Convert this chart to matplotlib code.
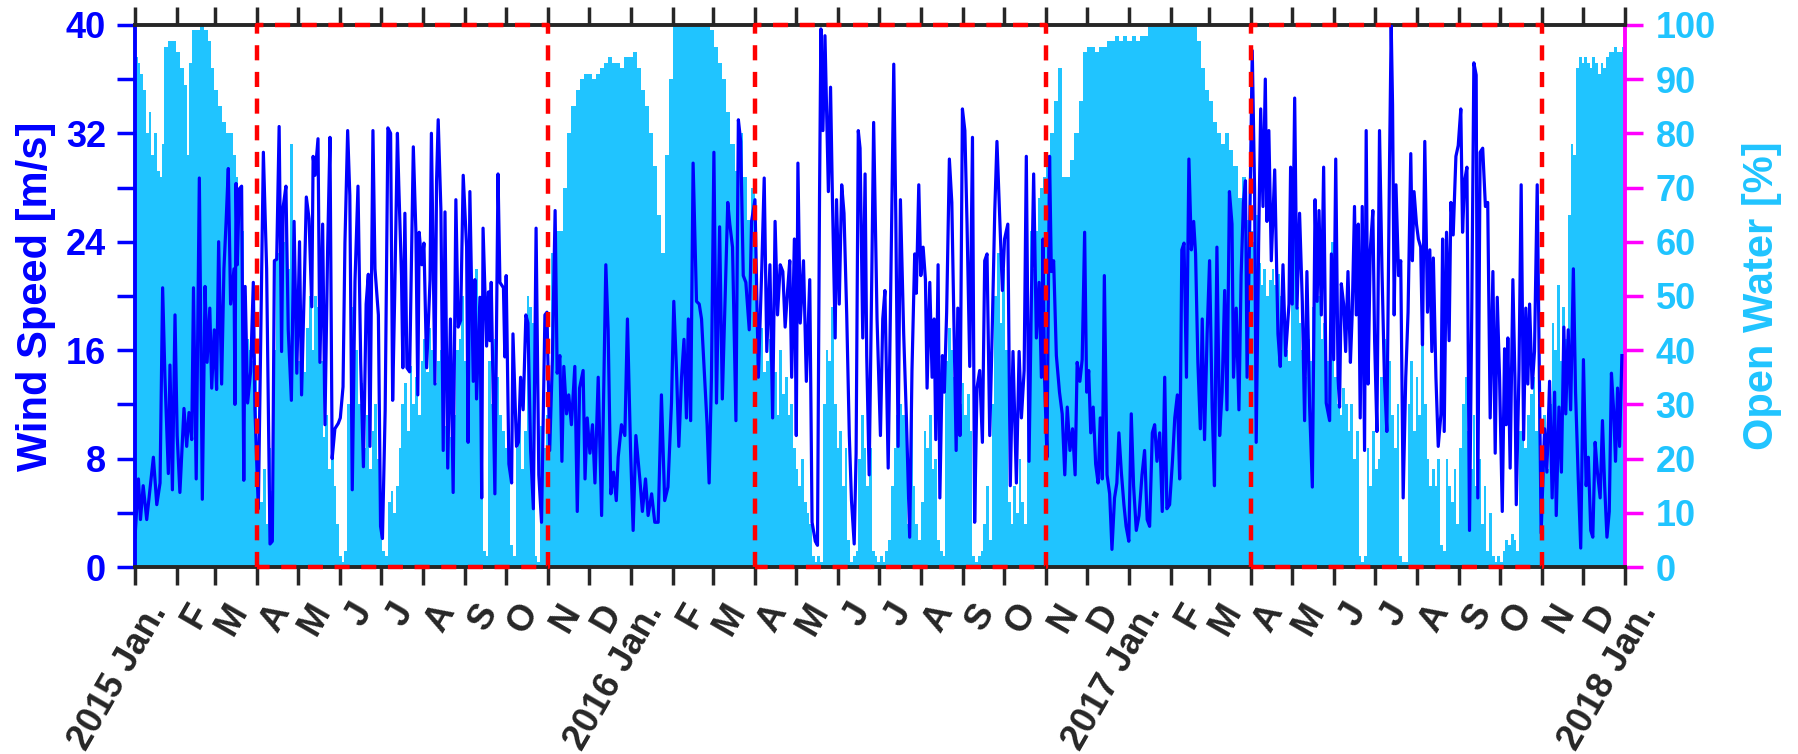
import numpy as np
import matplotlib
matplotlib.use('Agg')
import matplotlib.pyplot as plt
import matplotlib.transforms as mtransforms
from matplotlib.ticker import FixedLocator

plt.rcParams['font.family'] = ['Liberation Sans', 'DejaVu Sans']
plt.rcParams['font.weight'] = 'bold'

# days since 2015-01-01
wind_day = [
    0, 2.5, 4, 6, 8.6, 11.5, 13.5, 16, 18.4, 20.3, 22, 24.5, 25.7, 27.5, 29.4, 31, 33, 36, 38, 39.7,
    41.7, 43, 45, 47.3, 49.5, 51.5, 53, 55, 56.4, 58.3, 60, 61.5, 63.7, 65.4, 67, 68.6, 70.3, 72.8, 73.5, 74.3,
    75.2, 76.7, 78.4, 80, 81, 82.8, 85, 87, 88.2, 90.7, 92, 94.4, 96.8, 99.3, 101, 102.5, 104.2, 106, 107.8, 109,
    111, 112.7, 115, 117, 119, 121, 122.5, 124.5, 126, 128, 130, 131, 132.4, 134.6, 136, 138, 139.7, 141.7, 143.4, 145,
    147, 149.5, 151, 153, 154.4, 156.4, 158, 159.8, 161.8, 164, 166, 168, 170, 171.6, 172.8, 175, 176.5, 179, 180.6, 182,
    184, 186, 188, 189.5, 191, 193, 194, 196, 197, 198.5, 200, 202, 204.7, 206.6, 208, 209, 211, 212.5, 214.5, 217,
    218, 220.6, 221.8, 223, 225, 226.7, 228, 230, 232, 234, 236, 237.7, 239.5, 241.4, 243.9, 245, 246.3, 248.8, 250, 251.2,
    253.7, 255, 256, 258.6, 260, 261, 262, 264.7, 267, 268.4, 271, 272, 273, 275, 277, 278, 280.6,
    282, 283.6, 285.5, 287.5, 289, 291, 293, 295, 297, 299, 301.5, 303, 305, 307, 309, 310.5, 312.5, 314, 315.4, 317.4,
    319, 321, 323.5, 325.3, 327, 329.6, 331, 332.6, 334.6, 336.5, 338.3, 340.7, 343.2, 346.3, 348, 350, 352, 354, 355.4, 357.8,
    360.3, 362.2, 364.5, 366.4, 368.4, 371.3, 373.2, 375.5, 377.4, 380, 382.3, 384.8, 387.2, 389.6, 392, 394.6, 396.3, 398.3, 400, 402,
    403.8, 405.6, 407, 408.7, 410.5, 413, 415, 416.7, 419, 420.8, 422.3, 424, 425.8, 427.7, 430, 432, 434, 436, 437.5, 439.5,
    442, 443.8, 445.5, 447.4, 449.3, 451.8, 453.5, 456, 458.5, 461, 462.8, 464.7, 467, 469, 470.8, 472.6, 474.6, 476.5, 478.2, 480,
    481.6, 483, 485, 486.4, 487.6, 489.3, 491.7, 493.8, 496.3, 498, 500.4, 502, 503.5, 504.5, 506, 507.5, 510, 511.6, 513, 515,
    516, 518, 519.8, 521.5, 523.5, 525.4, 527, 529, 530.4, 532, 533.3, 535.3, 537, 538.2, 540, 542, 543.3, 545.8,
    548.3, 550, 551.6, 554, 556.6, 558.1, 559.6, 561.3, 563, 565.4, 567.4, 569.8, 571.5, 573.5, 574.7, 576.5, 578, 579.7, 581.4, 582.6,
    584.6, 586.3, 587.8, 589, 590.7, 592, 593.9, 595.3, 597, 599, 600.8, 602.5, 604, 605.2, 606.8, 608.6, 610.4, 612, 614, 616,
    617.6, 619.3, 621.3, 623.3, 625, 626.7, 628.7, 630.4, 632.4, 634, 636, 638, 639.6, 642, 643.8, 645.8, 648.3, 650.3, 652, 654,
    655.6, 657.6, 659.3, 661, 663, 665, 666.7, 667.9, 669, 670.8, 672.7, 674, 675.7, 677.7, 680, 682, 683.9, 685.7, 687.7, 689.6,
    691.5, 693, 695, 696.7, 698.5, 700, 701.5, 703, 704.8, 706.6, 708.4, 710, 711.5, 713, 715, 716.9, 718.6, 720.5, 722.2, 723.7,
    725.5, 727.4, 729, 731, 732.8, 734.5, 736.5, 738.5, 740.7, 742.6, 744.5, 746.3, 748.3, 750, 751.7, 753.7, 755.6, 757.4, 759, 761,
    763.1, 764.8, 766.7, 768.4, 770, 771.6, 773.4, 775.2, 777, 778.7, 780.1, 781.8, 783.6, 785, 786.7, 788.6, 790.4, 792.3, 794, 795.8,
    797.8, 799.6, 801.5, 803.2, 805, 806.9, 808, 810, 812, 813.6, 815.3, 816.8, 818, 819.8, 821.8, 823.5, 824.7, 826.5, 828, 829.7,
    831.4, 832.6, 834, 835.8, 838.3, 840.7,
    842.4, 844.4, 846.3, 848.8, 850, 851.2, 853, 854.7, 856.6, 858.6, 860.3, 862, 864, 866, 868, 869.5, 870.9, 872.6, 874.3, 876.2,
    878.7, 880, 881.7, 883.2, 884.9, 886, 887.3, 889, 890.5, 892.2, 894, 895.3, 897, 898.3, 899.8, 901.2, 902.7, 904.4, 905.6, 907,
    908.6, 910.5, 911.8, 913.5, 915.4, 917.2, 919, 920.8, 922.8, 924, 925, 926.2, 927.5, 929.4, 931, 932.8, 934.7, 936.4, 938.4, 939.6,
    940.8, 942.6, 944, 945.7, 947, 948.7, 950.7, 952.4, 953.9, 955, 956.9, 958.6, 960.6, 961.8, 963, 964.7, 966.6, 967.9, 969.6, 971.6,
    973.3, 975.2, 976.5, 978, 979.7, 981.6, 983.3, 984.8, 986.5, 987.7, 989.4, 991.3, 993.3, 995, 996.8, 998.8, 1000.5, 1002, 1003.7, 1005.7,
    1007.4, 1008.6, 1009.8, 1011.5, 1013.5, 1015, 1016, 1018, 1019.6, 1021.4, 1023, 1024.5, 1025.8, 1027.7, 1029.4, 1031.4, 1034.3, 1036.8, 1038.5, 1040.5,
    1042.4, 1044.2, 1045.4, 1047.4, 1049.2, 1051, 1052.4, 1054.2, 1056, 1058, 1059.6, 1061.6, 1063.4, 1065.4, 1067.4, 1069, 1070.8, 1072.3, 1074, 1075.7,
    1077.7, 1079.4, 1081, 1082.7, 1084.4, 1086, 1087.6, 1089, 1090.5, 1092, 1093.7,
]
wind_speed = [
    2.2, 6.5, 3.5, 6.0, 3.5, 6.2, 8.1, 4.6, 6.2, 20.6, 14.0, 6.9, 14.9, 5.7, 18.6, 9.7, 5.5, 11.7, 8.9, 11.4,
    9.4, 20.6, 6.5, 28.7, 5.0, 20.7, 15.1, 19.1, 13.2, 17.5, 13.1, 24.0, 13.5, 22.0, 25.5, 29.4, 19.4, 22.0, 12.0, 28.3,
    22.3, 27.9, 28.1, 6.4, 20.7, 12.1, 14.4, 21.0, 11.6, 4.3, 13.7, 30.6, 22.0, 1.7, 1.9, 22.6, 22.7, 32.5, 15.9, 26.6,
    28.1, 17.5, 12.3, 25.5, 14.3, 24.0, 12.7, 20.7, 27.3, 25.7, 19.2, 30.3, 28.9, 31.6, 15.1, 25.3, 10.5, 23.6, 31.7, 8.0,
    10.2, 10.6, 11.0, 13.3, 23.9, 32.2, 27.4, 5.7, 21.1, 28.1, 15.1, 7.4, 19.4, 21.6, 8.9, 32.2, 22.0, 18.6, 3.0, 2.1,
    11.6, 32.4, 32.0, 12.3, 20.0, 32.0, 28.2, 21.5, 14.7, 26.1, 14.7, 14.4, 31.0, 24.7, 12.7, 24.7, 22.3, 23.9, 14.7, 21.2,
    32.0, 13.5, 28.5, 33.0, 26.3, 8.6, 26.2, 7.3, 18.3, 5.5, 27.1, 17.7, 18.2, 28.9, 23.6, 9.2, 27.7, 13.7, 21.2, 12.4,
    19.9, 5.1, 25.0, 16.3, 20.3, 16.7, 21.0, 5.4, 29.0, 21.0, 20.6, 15.5, 21.5, 7.6, 6.2, 17.2, 8.9,
    9.2, 14.0, 11.6, 18.6, 18.0, 8.6, 4.3, 25.0, 6.8, 3.3, 18.6, 18.8, 8.6, 15.3, 26.3, 14.3, 15.6, 7.8, 14.8, 11.3,
    12.7, 10.5, 14.8, 4.1, 13.2, 14.5, 6.5, 11.0, 8.4, 10.5, 6.2, 14.0, 3.8, 22.3, 17.5, 5.4, 7.0, 4.9, 8.1, 10.5,
    9.7, 18.3, 8.6, 2.7, 9.7, 6.5, 4.1, 6.5, 3.8, 5.4, 3.3, 3.3, 12.7, 4.9, 5.9, 12.1, 19.6, 14.5, 8.9, 14.0,
    16.8, 11.0, 18.3, 10.8, 29.8, 19.6, 19.4, 18.3, 14.0, 10.5, 6.2, 14.0, 30.6, 12.1, 25.1, 12.4, 19.6, 26.9, 25.3, 23.6,
    10.8, 33.0, 31.4, 21.5, 21.0, 17.5, 25.5, 27.1, 14.0, 22.0, 28.7, 15.9, 22.3, 11.0, 25.5, 18.6, 22.3, 21.8, 17.7, 20.4,
    22.6, 14.0, 24.2, 9.7, 29.8, 18.0, 22.6, 13.7, 21.2, 3.3, 1.9, 1.6, 27.4, 39.7, 32.2, 39.2, 27.7, 35.4, 27.1, 16.9,
    27.1, 19.4, 28.2, 26.1, 18.6, 9.7, 4.9, 1.7, 8.4, 32.2, 30.9, 16.9, 29.0, 15.6, 6.8, 22.0, 32.8, 18.3,
    9.7, 18.3, 20.4, 7.3, 25.8, 37.1, 25.8, 8.9, 27.1, 17.2, 11.0, 2.2, 14.5, 23.1, 20.2, 28.2, 21.5, 23.6, 21.2, 13.2,
    21.0, 14.0, 18.3, 9.4, 22.3, 5.1, 15.6, 12.9, 18.8, 30.1, 26.9, 17.2, 8.6, 19.1, 9.7, 33.8, 32.2, 25.3, 14.8, 31.7,
    3.3, 13.2, 14.5, 9.2, 22.6, 23.1, 9.7, 16.9, 26.3, 31.4, 25.8, 20.4, 24.2, 25.3, 6.0, 15.9, 6.2, 15.9, 11.0, 14.5,
    30.3, 7.8, 19.6, 29.0, 16.9, 21.0, 14.0, 24.2, 14.0, 8.1, 30.3, 21.8, 22.6, 15.6, 12.9, 11.3, 6.8, 11.8, 8.6, 10.2,
    6.8, 15.1, 13.7, 15.3, 24.7, 12.9, 14.5, 9.9, 11.8, 7.6, 6.2, 11.0, 6.5, 21.5, 6.8, 5.4, 1.3, 5.1, 6.2, 9.9,
    7.0, 4.6, 3.0, 1.9, 11.3, 6.0, 2.7, 3.8, 6.8, 8.6, 3.5, 3.0, 9.9, 10.5, 7.8, 9.9, 4.1, 14.0, 4.3, 4.6,
    7.8, 11.0, 12.7, 6.5, 23.4, 23.9, 14.0, 30.1, 23.4, 25.5, 23.1, 15.1, 10.2, 18.3, 9.4, 17.2, 22.6, 11.8, 6.0, 23.6,
    9.7, 12.9, 20.4, 11.6, 27.7, 25.3, 14.0, 19.1, 11.6, 21.5, 26.9, 28.5, 14.0, 24.2, 38.1, 27.9, 9.2, 23.9, 33.8, 26.6,
    36.0, 25.5, 32.2, 22.6, 29.3, 17.2,
    14.8, 22.3, 15.6, 19.4, 29.5, 19.4, 34.6, 19.1, 26.1, 19.6, 10.8, 21.8, 11.8, 5.9, 27.1, 19.6, 26.3, 18.6, 29.5, 12.1,
    10.8, 23.1, 15.3, 30.1, 14.0, 11.8, 20.9, 19.4, 15.9, 21.8, 15.1, 18.6, 26.6, 18.6, 25.3, 11.0, 26.6, 8.6, 32.2, 13.5,
    23.4, 26.3, 16.7, 10.0, 32.2, 22.0, 14.0, 10.0, 30.1, 40.0, 34.1, 18.6, 28.2, 21.5, 22.6, 5.1, 14.0, 18.8, 30.5, 22.6,
    27.7, 25.3, 24.2, 23.6, 16.4, 31.4, 18.8, 23.4, 15.9, 22.8, 14.0, 8.9, 11.3, 24.2, 10.0, 24.7, 16.7, 26.9, 24.5, 30.3,
    31.1, 33.8, 24.7, 28.5, 29.5, 2.7, 19.4, 37.2, 36.3, 5.1, 30.6, 30.9, 26.6, 26.9, 11.0, 21.8, 8.4, 19.9, 14.0, 4.1,
    16.1, 10.5, 16.9, 7.3, 21.2, 14.0, 4.6, 14.5, 28.2, 9.4, 19.1, 13.5, 19.4, 13.2, 15.9, 28.2, 2.5, 10.2, 7.0, 13.7,
    5.1, 12.9, 3.8, 11.8, 7.0, 17.7, 11.3, 17.5, 11.6, 22.0, 12.9, 6.5, 1.4, 15.3, 6.0, 8.1, 2.7, 2.2, 9.2, 7.0,
    5.1, 10.8, 6.0, 2.2, 4.1, 14.3, 11.6, 7.8, 13.2, 8.9, 15.6,
]

ow_day = ([0, 2, 4, 6, 8, 10, 12, 14, 16, 18, 20, 21, 24, 27, 30, 33, 36, 38, 40, 42,
           45, 48, 51, 54, 56, 58, 61, 64, 67, 70, 72, 74, 76, 78, 80, 82, 84, 86, 88]
          + list(range(90, 306, 2)) + list(range(306, 456, 3))
          + list(range(456, 670, 2)) + list(range(670, 820, 3))
          + list(range(820, 1034, 2)) + list(range(1034, 1096, 2)))
ow_pct = [
    94, 93, 91, 88, 80, 84, 76, 80, 73, 72, 78, 96, 97, 97, 95, 92, 89, 76, 93, 99,
    99, 100, 99, 97, 92, 88, 85, 82, 80, 80, 76, 72, 70, 62, 50, 42, 40, 38, 36,
    # summer 2015
    20, 12, 18, 8, 22, 14, 40, 58, 62, 60, 65, 55, 78, 55, 42, 38, 40, 36, 44, 50,
    40, 50, 48, 38, 24, 28, 18, 22, 15, 8, 2, 1, 3, 30, 48, 45, 40, 30, 34, 22,
    28, 18, 25, 30, 20, 12, 3, 2, 12, 14, 10, 15, 22, 30, 34, 25, 37, 30, 35, 28,
    38, 42, 36, 44, 40, 34, 38, 40, 28, 26, 30, 24, 28, 40, 42, 50, 38, 45, 48, 52,
    55, 45, 30, 3, 2, 38, 30, 42, 35, 28, 25, 22, 18, 4, 2, 22, 28, 18, 25, 50,
    48, 45, 2, 1, 26, 22, 28, 25,
    # winter 2015-16
    58, 62, 62, 70, 80, 85, 88, 90, 91, 91, 90, 91, 92, 93, 94, 93, 93, 92, 94, 94,
    95, 92, 88, 85, 80, 74, 65, 58, 76, 90, 100, 100, 100, 100, 100, 100, 100, 100, 100, 99,
    96, 93, 90, 84, 78, 73, 80, 72, 64, 70,
    # summer 2016
    50, 42, 44, 36, 38, 42, 32, 36, 28, 40, 32, 35, 28, 30, 22, 18, 15, 20, 12, 10,
    8, 2, 1, 2, 1, 30, 40, 38, 48, 30, 22, 25, 15, 22, 5, 1, 2, 3, 20, 28,
    22, 15, 22, 3, 2, 1, 2, 1, 3, 5, 15, 22, 28, 30, 28, 30, 8, 28, 15, 8,
    5, 12, 25, 22, 28, 18, 20, 5, 3, 2, 38, 44, 40, 35, 42, 30, 34, 28, 32, 25,
    2, 1, 2, 3, 8, 15, 5, 30, 50, 58, 45, 55, 40, 12, 8, 15, 10, 20, 12, 8,
    30, 62, 55, 62, 68, 70, 72,
    # winter 2016-17
    76, 80, 86, 92, 72, 72, 75, 80, 86, 95, 96, 96, 95, 96, 96, 97, 97, 98, 97, 98,
    97, 98, 97, 98, 98, 100, 100, 100, 100, 100, 100, 100, 100, 100, 100, 100, 100, 97, 92, 88,
    86, 82, 80, 78, 80, 77, 74, 68, 72, 64,
    # summer 2017
    62, 60, 65, 56, 52, 55, 50, 53, 55, 52, 54, 50, 45, 40, 38, 55, 62, 48, 45, 40,
    35, 42, 38, 48, 55, 50, 42, 45, 38, 32, 60, 35, 30, 28, 33, 30, 25, 30, 20, 25,
    2, 1, 2, 22, 15, 25, 18, 20, 35, 42, 30, 38, 28, 22, 30, 2, 1, 1, 30, 38,
    25, 35, 28, 48, 30, 20, 15, 18, 15, 20, 4, 3, 20, 15, 12, 18, 8, 22, 30, 35,
    25, 18, 28, 15, 20, 8, 15, 3, 10, 2, 1, 2, 1, 3, 5, 4, 6, 5, 3, 25,
    30, 22, 28, 32, 35, 25, 30,
    # winter 2017
    22, 28, 18, 30, 45, 40, 52, 38, 48, 42, 65, 78, 76, 92, 94, 93, 94, 93, 92, 94,
    93, 91, 93, 92, 94, 95, 95, 96, 95, 95, 96,
]

season_start = ['2015-04-01', '2016-04-01', '2017-04-01']
season_end = ['2015-11-01', '2016-11-01', '2017-11-01']

start = np.datetime64('2015-01-01')
end = np.datetime64('2018-01-01')
months = np.arange('2015-01', '2018-02', dtype='datetime64[M]')
month_letter = ['Jan.', 'F', 'M', 'A', 'M', 'J', 'J', 'A', 'S', 'O', 'N', 'D']

wind_col = '#0000FF'
ow_col = '#20C4FF'
dark = '#262626'

fig = plt.figure(figsize=(17.98, 7.54), dpi=100)
ax1 = fig.add_axes([0.0751, 0.248, 0.8287, 0.719])
ax2 = ax1.twinx()
ax1.set_zorder(ax2.get_zorder() + 1)
ax1.patch.set_visible(False)

ow_day = np.array(ow_day, dtype=float)
ow_w = np.append(np.diff(ow_day), (end - start).astype(int) - ow_day[-1])
ax2.bar(ow_day, ow_pct, width=ow_w, align='edge', color=ow_col, linewidth=0)

ax1.plot(wind_day, wind_speed, color=wind_col, lw=2.3, zorder=3)

# red dashed boxes Apr-Nov
for s, e in zip(season_start, season_end):
    s = (np.datetime64(s) - start).astype(int)
    e = (np.datetime64(e) - start).astype(int)
    ax1.plot([s, s, e, e, s], [0, 40, 40, 0, 0], color='red', lw=3.2,
             ls=(0, (3.4, 2.6)), clip_on=False, zorder=6)

xmax = (end - start).astype(int)
ax1.set_xlim(0, xmax)
ax1.set_ylim(0, 40)
ax2.set_ylim(0, 100)

tick_pos = (months.astype('datetime64[D]') - start).astype(int)
tick_lab = []
for m in months:
    yr = m.astype(int) // 12 + 1970
    mo = m.astype(int) % 12
    tick_lab.append(f'{yr} Jan.' if mo == 0 else month_letter[mo])
ax1.set_xticks(tick_pos)
ax1.set_xticklabels(tick_lab, rotation=60, ha='right', rotation_mode='anchor',
                    fontsize=26, fontweight='bold', color=dark)
ax1.tick_params(axis='x', direction='out', top=True, bottom=True, length=13,
                width=2.5, color=dark, pad=9)
shift = mtransforms.ScaledTranslation(9 / 100, 0, fig.dpi_scale_trans)
for lab in ax1.get_xticklabels():
    lab.set_transform(lab.get_transform() + shift)

ax1.set_yticks(np.arange(0, 41, 8))
ax1.yaxis.set_minor_locator(FixedLocator(np.arange(4, 40, 8)))
ax1.tick_params(axis='y', which='both', direction='out', length=13, width=2.5,
                color=wind_col, labelcolor=wind_col, labelsize=26, pad=8)
ax2.set_yticks(np.arange(0, 101, 10))
ax2.tick_params(axis='y', direction='out', length=13, width=2.5,
                color='#FF00FF', labelcolor=ow_col, labelsize=26, pad=9)
for lab in ax1.get_yticklabels() + ax2.get_yticklabels():
    lab.set_fontweight('bold')
ax2.tick_params(axis='x', bottom=False, top=False, labelbottom=False)

for sp in ax1.spines.values():
    sp.set_linewidth(2.8)
ax1.spines['left'].set_color(wind_col)
ax1.spines['bottom'].set_color(dark)
ax1.spines['top'].set_color(dark)
ax1.spines['right'].set_visible(False)
for k in ['left', 'top', 'bottom']:
    ax2.spines[k].set_visible(False)
ax2.spines['right'].set_color('#FF00FF')
ax2.spines['right'].set_linewidth(2.8)

ax1.set_ylabel('Wind Speed [m/s]', color=wind_col, fontsize=30, fontweight='bold',
               va='center', ha='center')
ax1.yaxis.set_label_coords(-0.0664, 0.5)
ax2.set_ylabel('Open Water [%]', color=ow_col, fontsize=30, fontweight='bold',
               va='center', ha='center')
ax2.yaxis.set_label_coords(1.092, 0.5)

fig.savefig('out.png', dpi=100)
